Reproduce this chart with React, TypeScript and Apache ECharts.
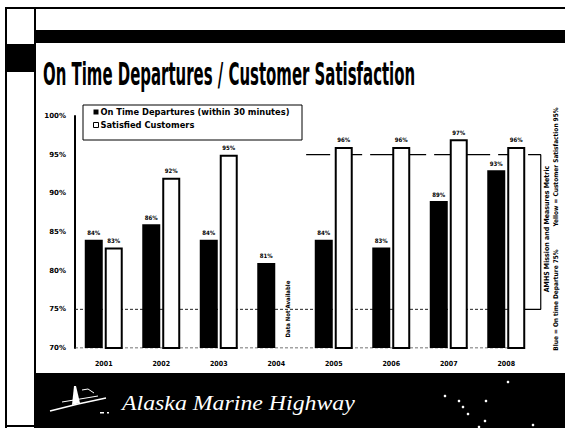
import React, { useEffect, useRef } from "react";
import * as echarts from "echarts";

const categories = ["2001", "2002", "2003", "2004", "2005", "2006", "2007", "2008"];
const onTimeDepartures = [84, 86, 84, 81, 84, 83, 89, 93];
const satisfiedCustomers: (number | null)[] = [83, 92, 95, null, 96, 96, 97, 96];
const yMin = 70;
const yMax = 100;
const yInterval = 5;
const targetSatisfied = 95;
const targetOnTime = 75;
const seriesNames = ["On Time Departures (within 30 minutes)", "Satisfied Customers"];

const TITLE = "On Time Departures / Customer Satisfaction";
const FOOTER = "Alaska Marine Highway";

function measure(text: string, font: string): number {
  const c = document.createElement("canvas");
  const ctx = c.getContext("2d");
  if (!ctx) return text.length * 10;
  ctx.font = font;
  return ctx.measureText(text).width;
}

export default function App() {
  const ref = useRef<HTMLDivElement>(null);
  useEffect(() => {
    if (!ref.current) return;
    const chart = echarts.init(ref.current, null, { renderer: "svg" });
    const titleFont = 'bold 32px "DejaVu Sans Condensed"';
    const titleScale = 372 / measure(TITLE, titleFont);
    const footFont = 'italic 22px "Liberation Serif"';
    const footScale = 233 / measure(FOOTER, footFont);
    const cond = '"DejaVu Sans Condensed", "DejaVu Sans", sans-serif';
    const stars = [
      [508, 382], [445, 396], [459, 401], [463, 407], [468, 414], [486, 401],
      [485, 421], [479, 427], [533, 425],
    ];
    const lineBase = { type: "line", xAxisIndex: 1, yAxisIndex: 1, symbol: "none", silent: true, z: 1 };
    const option: any = {
      animation: false,
      backgroundColor: "#fff",
      grid: [
        { left: 75, right: 30, top: 116, bottom: 80, containLabel: false },
        { left: 75, right: 18.5, top: 116, bottom: 80, containLabel: false },
      ],
      legend: {
        orient: "vertical",
        left: 93,
        top: 108,
        itemWidth: 5,
        itemHeight: 5,
        itemGap: 5,
        padding: 0,
        textStyle: { fontSize: 8.3, fontWeight: "bold", fontFamily: "DejaVu Sans", color: "#000", padding: [0, 0, 0, -3] },
        data: [
          { name: seriesNames[0], icon: "rect", itemStyle: { color: "#000", borderWidth: 0 } },
          { name: seriesNames[1], icon: "rect", itemStyle: { color: "#fff", borderColor: "#000", borderWidth: 1 } },
        ],
      },
      xAxis: [
        {
          type: "category",
          gridIndex: 0,
          data: categories,
          axisLine: { show: false },
          axisTick: { show: false },
          axisLabel: { margin: 12, fontSize: 7, fontWeight: "bold", fontFamily: cond, color: "#000" },
        },
        { type: "value", gridIndex: 1, min: 0, max: 8.2, show: false },
      ],
      yAxis: [
        {
          type: "value",
          gridIndex: 0,
          min: yMin,
          max: yMax,
          interval: yInterval,
          axisLine: { show: true, lineStyle: { color: "#000", width: 2 } },
          axisTick: { show: false },
          splitLine: { show: false },
          axisLabel: { margin: 9, fontSize: 7, fontWeight: "bold", fontFamily: "DejaVu Sans", color: "#000", formatter: "{value}%" },
        },
        { type: "value", gridIndex: 1, min: yMin, max: yMax, show: false },
      ],
      series: [
        {
          name: seriesNames[0],
          type: "bar",
          data: onTimeDepartures,
          barWidth: 18,
          barGap: "11%",
          z: 3,
          itemStyle: { color: "#000" },
          label: { show: true, position: "top", distance: 4, fontSize: 6, fontWeight: "bold", fontFamily: cond, color: "#000", formatter: "{c}%" },
        },
        {
          name: seriesNames[1],
          type: "bar",
          data: satisfiedCustomers,
          barWidth: 18,
          z: 3,
          itemStyle: { color: "#fff", borderColor: "#000", borderWidth: 2 },
          label: { show: true, position: "top", distance: 4, fontSize: 6, fontWeight: "bold", fontFamily: cond, color: "#000", formatter: "{c}%" },
        },
        {
          ...lineBase,
          data: [[0, yMin], [7.79, yMin]],
          lineStyle: { color: "#444", width: 1, type: [3, 2] },
        },
        {
          ...lineBase,
          data: [[0, targetOnTime], [7.79, targetOnTime]],
          lineStyle: { color: "#222", width: 1, type: [3, 2] },
        },
        {
          ...lineBase,
          data: [[4.02, targetSatisfied], [7.88, targetSatisfied]],
          lineStyle: { color: "#000", width: 1.2, type: [24, 8] },
        },
        {
          ...lineBase,
          data: [[7.88, targetSatisfied], [8.1, targetSatisfied], [8.1, targetOnTime], [7.79, targetOnTime]],
          lineStyle: { color: "#000", width: 1.2 },
        },
      ],
      graphic: [
        // frame
        { type: "rect", shape: { x: 5, y: 7, width: 560, height: 2 }, style: { fill: "#000" }, z: 10 },
        { type: "rect", shape: { x: 5, y: 7, width: 2, height: 421 }, style: { fill: "#000" }, z: 10 },
        { type: "rect", shape: { x: 5, y: 425, width: 30, height: 2 }, style: { fill: "#000" }, z: 10 },
        { type: "rect", shape: { x: 34, y: 7, width: 2, height: 421 }, style: { fill: "#000" }, z: 10 },
        { type: "rect", shape: { x: 6, y: 44, width: 29, height: 28 }, style: { fill: "#000" }, z: 10 },
        { type: "rect", shape: { x: 35, y: 30, width: 530, height: 13 }, style: { fill: "#000" }, z: 10 },
        { type: "rect", shape: { x: 35, y: 373, width: 530, height: 55 }, style: { fill: "#000" }, z: 10 },
        // title
        {
          type: "text",
          x: 43,
          y: 74,
          scaleX: titleScale,
          z: 10,
          style: { text: TITLE, font: titleFont, fill: "#000", verticalAlign: "middle", align: "left" },
        },
        // legend box
        { type: "rect", shape: { x: 83, y: 105, width: 219, height: 35 }, style: { fill: "#fff", stroke: "#000", lineWidth: 1 }, z: 2 },
        // data not available
        {
          type: "text",
          x: 287,
          y: 309,
          rotation: Math.PI / 2,
          z: 10,
          style: { text: "Data Not Available", font: `bold 6px ${cond}`, fill: "#000", align: "center", verticalAlign: "middle" },
        },
        // right notes
        {
          type: "text",
          x: 547,
          y: 229,
          rotation: Math.PI / 2,
          z: 10,
          style: { text: "AMHS Mission and Measures Metric", font: `bold 7px ${cond}`, fill: "#000", align: "center", verticalAlign: "middle" },
        },
        {
          type: "text",
          x: 556,
          y: 167,
          rotation: Math.PI / 2,
          z: 10,
          style: { text: "Yellow = Customer Satisfaction 95%", font: `bold 6.5px ${cond}`, fill: "#000", align: "center", verticalAlign: "middle" },
        },
        {
          type: "text",
          x: 556,
          y: 300,
          rotation: Math.PI / 2,
          z: 10,
          style: { text: "Blue = On time Departure 75%", font: `bold 6.5px ${cond}`, fill: "#000", align: "center", verticalAlign: "middle" },
        },
        // footer
        {
          type: "text",
          x: 122,
          y: 403,
          scaleX: footScale,
          z: 11,
          style: { text: FOOTER, font: footFont, fill: "#fff", verticalAlign: "middle", align: "left" },
        },
        // ship logo
        { type: "polyline", z: 11, shape: { points: [[50, 411], [78, 404], [106, 398]] }, style: { stroke: "#fff", lineWidth: 1.5, fill: null } },
        { type: "polyline", z: 11, shape: { points: [[62, 402], [80, 399], [98, 396]] }, style: { stroke: "#fff", lineWidth: 1, fill: null } },
        { type: "polygon", z: 11, shape: { points: [[74, 386], [76, 386], [80, 403], [72, 405]] }, style: { fill: "#fff" } },
        { type: "polyline", z: 11, shape: { points: [[82, 390], [88, 389], [94, 393]] }, style: { stroke: "#fff", lineWidth: 1, fill: null } },
        { type: "rect", z: 11, shape: { x: 100, y: 412, width: 4, height: 1.5 }, style: { fill: "#fff" } },
        { type: "rect", z: 11, shape: { x: 107, y: 412, width: 2, height: 1.5 }, style: { fill: "#fff" } },
        ...stars.map((p) => ({ type: "circle", z: 11, shape: { cx: p[0], cy: p[1], r: 1.3 }, style: { fill: "#fff" } })),
      ],
    };
    chart.setOption(option);
    return () => chart.dispose();
  }, []);
  return <div ref={ref} style={{ position: "fixed", left: 0, top: 0, width: 565, height: 428 }} />;
}
